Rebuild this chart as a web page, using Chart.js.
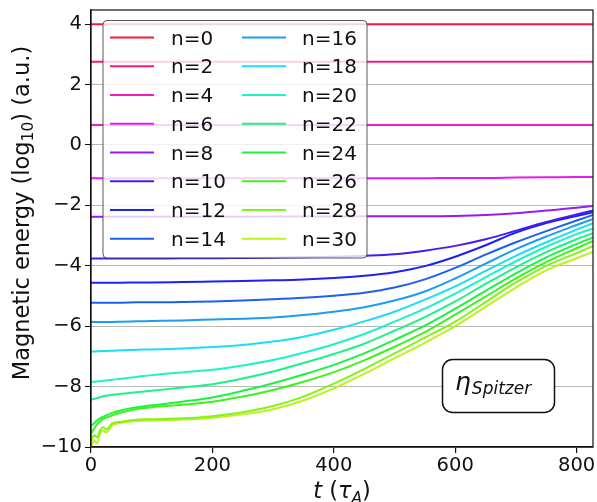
<!DOCTYPE html>
<html><head><meta charset="utf-8">
<script src="https://cdn.jsdelivr.net/npm/chart.js@4.4.0/dist/chart.umd.min.js"></script>
<style>html,body{margin:0;padding:0;background:#fff;}</style>
</head><body>
<canvas id="c" width="597" height="502" style="display:block"></canvas>
<script>
// ---- data ----
const tVals = [0,5,10,15,20,25,35,50,75,100,150,200,250,300,350,400,450,500,550,600,650,700,750,800,827];
const seriesNames = ["n=0","n=2","n=4","n=6","n=8","n=10","n=12","n=14","n=16","n=18","n=20","n=22","n=24","n=26","n=28","n=30"];
const n0  = [4,4,4,4,4,4,4,4,4,4,4,4,4,4,4,4,4,4,4,4,4,4,4,4,4];
const n2  = [2.76,2.76,2.76,2.76,2.76,2.76,2.76,2.76,2.76,2.76,2.76,2.76,2.76,2.76,2.76,2.76,2.76,2.76,2.76,2.76,2.76,2.76,2.76,2.76,2.76];
const n4  = [0.66,0.66,0.66,0.66,0.66,0.66,0.66,0.66,0.66,0.66,0.66,0.66,0.66,0.66,0.66,0.66,0.66,0.66,0.66,0.66,0.66,0.66,0.66,0.66,0.66];
const n6  = [-1.10,-1.10,-1.10,-1.10,-1.10,-1.10,-1.10,-1.10,-1.10,-1.10,-1.10,-1.10,-1.10,-1.10,-1.10,-1.10,-1.10,-1.10,-1.10,-1.09,-1.09,-1.08,-1.07,-1.06,-1.06];
const n8  = [-2.38,-2.38,-2.38,-2.38,-2.38,-2.38,-2.38,-2.38,-2.38,-2.38,-2.38,-2.38,-2.38,-2.37,-2.37,-2.37,-2.36,-2.36,-2.36,-2.35,-2.32,-2.26,-2.17,-2.08,-2.02];
const n10 = [-3.76,-3.76,-3.76,-3.76,-3.76,-3.76,-3.76,-3.76,-3.76,-3.76,-3.75,-3.75,-3.74,-3.73,-3.72,-3.70,-3.67,-3.62,-3.50,-3.34,-3.12,-2.84,-2.55,-2.30,-2.17];
const n12 = [-4.56,-4.56,-4.56,-4.56,-4.56,-4.56,-4.56,-4.56,-4.55,-4.55,-4.54,-4.52,-4.50,-4.48,-4.45,-4.40,-4.33,-4.21,-4.01,-3.70,-3.32,-2.90,-2.58,-2.35,-2.23];
const n14 = [-5.22,-5.22,-5.22,-5.22,-5.22,-5.22,-5.22,-5.22,-5.21,-5.21,-5.20,-5.18,-5.15,-5.11,-5.06,-4.99,-4.89,-4.72,-4.45,-4.07,-3.63,-3.22,-2.85,-2.50,-2.32];
const n16 = [-5.86,-5.86,-5.86,-5.86,-5.86,-5.86,-5.86,-5.85,-5.84,-5.83,-5.81,-5.78,-5.75,-5.71,-5.63,-5.52,-5.37,-5.15,-4.85,-4.42,-3.93,-3.45,-3.03,-2.65,-2.45];
const n18 = [-6.84,-6.84,-6.83,-6.83,-6.82,-6.82,-6.81,-6.80,-6.78,-6.77,-6.74,-6.69,-6.62,-6.51,-6.35,-6.12,-5.84,-5.52,-5.12,-4.68,-4.17,-3.67,-3.22,-2.80,-2.59];
const n20 = [-7.84,-7.84,-7.83,-7.82,-7.81,-7.80,-7.77,-7.74,-7.68,-7.62,-7.53,-7.44,-7.30,-7.12,-6.88,-6.60,-6.26,-5.85,-5.42,-4.92,-4.38,-3.85,-3.37,-2.95,-2.76];
const n22 = [-8.42,-8.41,-8.38,-8.35,-8.32,-8.30,-8.27,-8.24,-8.19,-8.14,-8.03,-7.92,-7.73,-7.50,-7.22,-6.92,-6.58,-6.15,-5.70,-5.18,-4.60,-4.05,-3.55,-3.12,-2.92];
const n24 = [-9.30,-9.22,-9.12,-9.05,-9.00,-8.95,-8.87,-8.78,-8.68,-8.62,-8.50,-8.36,-8.14,-7.89,-7.60,-7.28,-6.90,-6.45,-5.98,-5.42,-4.83,-4.25,-3.72,-3.28,-3.06];
const n26 = [-9.55,-9.40,-9.25,-9.15,-9.08,-9.03,-8.95,-8.86,-8.74,-8.68,-8.60,-8.50,-8.33,-8.11,-7.84,-7.52,-7.13,-6.68,-6.20,-5.62,-5.02,-4.42,-3.88,-3.42,-3.18];
const n28 = [-9.80,-9.60,-9.68,-9.45,-9.35,-9.42,-9.22,-9.16,-9.10,-9.08,-9.05,-8.98,-8.85,-8.64,-8.33,-7.90,-7.42,-6.90,-6.38,-5.85,-5.20,-4.55,-4.00,-3.58,-3.34];
const n30 = [-10.00,-9.78,-9.88,-9.55,-9.45,-9.52,-9.28,-9.20,-9.14,-9.12,-9.09,-9.03,-8.92,-8.75,-8.46,-8.06,-7.58,-7.06,-6.55,-6.00,-5.36,-4.72,-4.15,-3.75,-3.53];
const xTickVals = [0,200,400,600,800];
const yTickVals = [-10,-8,-6,-4,-2,0,2,4];

// ---- styles ----
const hues = [352,333,314,296,274,252,238,221,204,186,167,149,130,111,92,75];
const colors = hues.map(h => `hsl(${h},90%,53%)`);
const allSeries = [n0,n2,n4,n6,n8,n10,n12,n14,n16,n18,n20,n22,n24,n26,n28,n30];
const FONT = "'DejaVu Sans', sans-serif";

const datasets = allSeries.map((s, i) => ({
  label: seriesNames[i],
  data: tVals.map((t, j) => ({x: t, y: s[j]})),
  borderColor: colors[i],
  backgroundColor: colors[i],
  borderWidth: 2,
  pointRadius: 0,
  cubicInterpolationMode: 'monotone',
  fill: false
}));

const noPad = s => { s.paddingTop = 0; s.paddingBottom = 0; s.paddingLeft = 0; s.paddingRight = 0; };

const decor = {
  id: 'decor',
  afterDatasetsDraw(chart) {
    const ctx = chart.ctx, a = chart.chartArea;
    ctx.save();
    // frame
    ctx.strokeStyle = '#111'; ctx.lineWidth = 1.2;
    ctx.strokeRect(a.left, a.top, a.right - a.left, a.bottom - a.top);

    // legend
    const lx = 103, ly = 20.5, lw = 264, lh = 237.5;
    ctx.beginPath(); ctx.roundRect(lx, ly, lw, lh, 4);
    ctx.fillStyle = 'rgba(255,255,255,0.8)'; ctx.fill();
    ctx.strokeStyle = 'rgba(60,60,60,0.85)'; ctx.lineWidth = 1; ctx.stroke();
    ctx.font = `20px ${FONT}`; ctx.textBaseline = 'alphabetic'; ctx.textAlign = 'left';
    seriesNames.forEach((name, i) => {
      const col = Math.floor(i / 8), row = i % 8;
      const cy = 37.5 + row * 28.75;
      const x0 = col === 0 ? 110 : 242;
      const tx = col === 0 ? 171 : 302;
      ctx.strokeStyle = colors[i]; ctx.lineWidth = 2;
      ctx.beginPath(); ctx.moveTo(x0, cy); ctx.lineTo(x0 + 44, cy); ctx.stroke();
      ctx.fillStyle = '#111';
      ctx.fillText(name, tx, cy + 7.2);
    });

    // eta box
    ctx.beginPath(); ctx.roundRect(442.5, 359.5, 112, 53, 10);
    ctx.fillStyle = '#fff'; ctx.fill();
    ctx.strokeStyle = '#111'; ctx.lineWidth = 1.5; ctx.stroke();
    ctx.fillStyle = '#111';
    ctx.font = `italic 25px ${FONT}`;
    ctx.fillText('η', 455, 390);
    const ew = ctx.measureText('η').width;
    ctx.font = `italic 17px ${FONT}`;
    ctx.fillText('Spitzer', 455 + ew + 1, 394);

    // x title: t (τ_A)
    const parts = [
      {s:'t', f:`italic 22.5px ${FONT}`, dy:0},
      {s:' (', f:`22.5px ${FONT}`, dy:0},
      {s:'τ', f:`italic 22.5px ${FONT}`, dy:0},
      {s:'A', f:`italic 15.5px ${FONT}`, dy:4.5},
      {s:')', f:`22.5px ${FONT}`, dy:0}
    ];
    let tw = 0;
    parts.forEach(p => { ctx.font = p.f; p.w = ctx.measureText(p.s).width; tw += p.w; });
    let px = (a.left + a.right) / 2 - tw / 2;
    parts.forEach(p => { ctx.font = p.f; ctx.fillText(p.s, px, 498 + p.dy); px += p.w; });

    // y title
    ctx.translate(28.5, 213);
    ctx.rotate(-Math.PI / 2);
    const yp = [
      {s:'Magnetic energy (log', f:`22.5px ${FONT}`, dy:0},
      {s:'10', f:`15.5px ${FONT}`, dy:4.5},
      {s:') (a.u.)', f:`22.5px ${FONT}`, dy:0}
    ];
    let yw = 0;
    yp.forEach(p => { ctx.font = p.f; p.w = ctx.measureText(p.s).width; yw += p.w; });
    let qx = -yw / 2;
    yp.forEach(p => { ctx.font = p.f; ctx.fillText(p.s, qx, p.dy); qx += p.w; });
    ctx.restore();
  }
};

new Chart(document.getElementById('c'), {
  type: 'line',
  data: { datasets },
  options: {
    responsive: false,
    animation: false,
    layout: { padding: { left: 0, top: 10, right: 4, bottom: 0 } },
    plugins: { legend: { display: false }, tooltip: { enabled: false } },
    scales: {
      x: {
        type: 'linear', min: 0, max: 827,
        afterBuildTicks: s => { s.ticks = xTickVals.map(v => ({value: v})); },
        afterFit: s => { s.height = 55; noPad(s); },
        grid: { drawOnChartArea: false, tickColor: '#111', tickLength: 6, lineWidth: 1.2 },
        border: { color: '#111', width: 1.2 },
        ticks: { color: '#111', font: { family: FONT, size: 19.5 }, padding: 1, maxRotation: 0 }
      },
      y: {
        type: 'linear', min: -10, max: 4.47,
        afterBuildTicks: s => { s.ticks = yTickVals.map(v => ({value: v})); },
        afterFit: s => { s.width = 91; noPad(s); },
        grid: { color: '#b8b8b8', lineWidth: 1, tickColor: '#111', tickLength: 6 },
        border: { color: '#111', width: 1.2 },
        ticks: { color: '#111', font: { family: FONT, size: 19.5 }, padding: 3,
          callback: v => v < 0 ? '\u2212' + Math.abs(v) : String(v) }
      }
    }
  },
  plugins: [decor]
});
</script>
</body></html>
